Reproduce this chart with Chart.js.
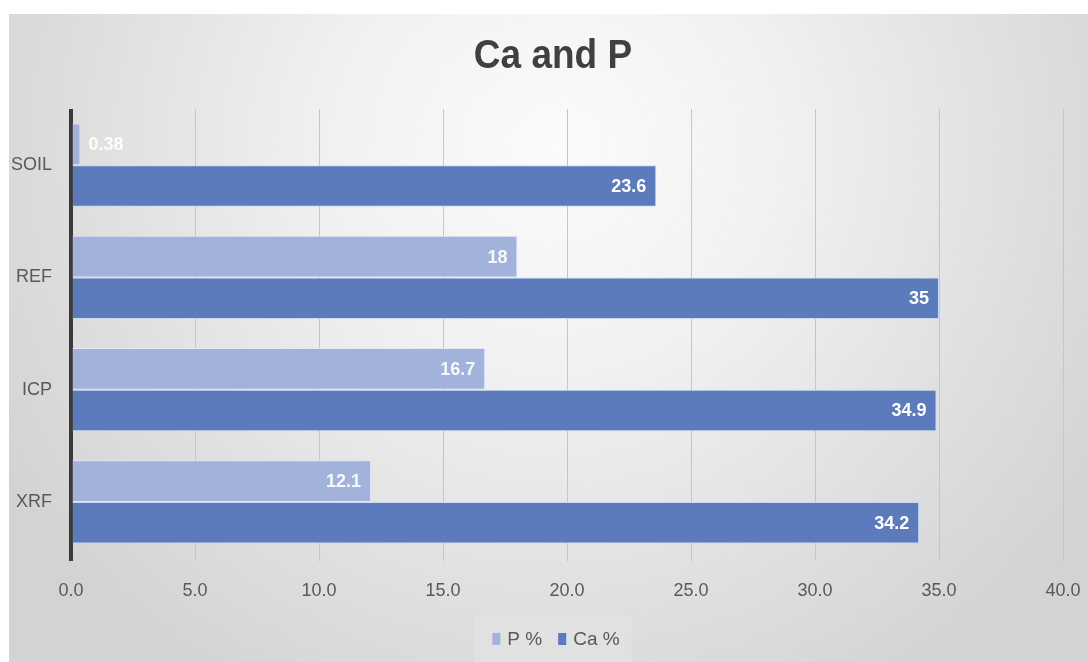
<!DOCTYPE html>
<html>
<head>
<meta charset="utf-8">
<script src="https://cdn.jsdelivr.net/npm/chart.js@4.4.1/dist/chart.umd.min.js"></script>
<style>
  html, body { margin: 0; padding: 0; background: #ffffff; }
  #wrap { width: 1088px; height: 662px; position: relative; }
</style>
</head>
<body>
<div id="wrap"><canvas id="chart" width="1088" height="662"></canvas></div>
<script>
// Sample groups and measured percentages
const categories = ['SOIL', 'REF', 'ICP', 'XRF'];
const pPercent = [0.38, 18, 16.7, 12.1];
const caPercent = [23.6, 35, 34.9, 34.2];
const seriesNames = ['P %', 'Ca %'];
const chartTitle = 'Ca and P';
const xMin = 0, xMax = 40, xStep = 5;

const FONT = "'Liberation Sans', Arial, sans-serif";
const TEXT = '#595959';
const COLORS = ['#a2b2da', '#5b7bbc'];

// Panel background: white margin strips plus a soft grey radial wash
const panelBackground = {
  id: 'panelBackground',
  beforeDraw(chart) {
    const ctx = chart.ctx;
    const w = chart.width, h = chart.height;
    ctx.save();
    ctx.fillStyle = '#ffffff';
    ctx.fillRect(0, 0, w, h);
    const g = ctx.createRadialGradient(555, 150, 0, 555, 150, 640);
    g.addColorStop(0, '#fbfbfb');
    g.addColorStop(0.35, '#f1f1f1');
    g.addColorStop(0.75, '#dedede');
    g.addColorStop(1, '#d3d3d3');
    ctx.fillStyle = g;
    ctx.fillRect(9, 14, w - 9, h - 14);
    ctx.restore();
  }
};

// Title and legend drawn as text on the panel
const titleAndLegend = {
  id: 'titleAndLegend',
  afterDraw(chart) {
    const ctx = chart.ctx;
    ctx.save();
    // title, slightly tall lettering
    ctx.fillStyle = '#404040';
    ctx.font = 'bold 37px ' + FONT;
    ctx.textAlign = 'center';
    ctx.textBaseline = 'alphabetic';
    ctx.translate(553, 68);
    ctx.scale(1, 1.12);
    ctx.fillText(chartTitle, 0, 0);
    ctx.restore();

    ctx.save();
    ctx.font = '19px ' + FONT;
    const boxW = 8, boxH = 12, gap = 7, itemGap = 16;
    const widths = seriesNames.map(s => boxW + gap + ctx.measureText(s).width);
    const total = widths.reduce((a, b) => a + b, 0) + itemGap * (seriesNames.length - 1);
    const cx = 556, cy = 639;
    // lighter plate behind the legend
    ctx.fillStyle = 'rgba(255,255,255,0.14)';
    ctx.fillRect(cx - total / 2 - 18, 617, total + 30, chart.height - 617);
    let x = cx - total / 2;
    ctx.textBaseline = 'middle';
    ctx.textAlign = 'left';
    seriesNames.forEach((s, i) => {
      ctx.fillStyle = COLORS[i];
      ctx.fillRect(x, cy - boxH / 2, boxW, boxH);
      ctx.fillStyle = TEXT;
      ctx.fillText(s, x + boxW + gap, cy + 1);
      x += widths[i] + itemGap;
    });
    ctx.restore();
  }
};

// Value axis line at zero drawn over the bar bases, plus value labels
const barLabels = {
  id: 'barLabels',
  afterDatasetsDraw(chart) {
    const ctx = chart.ctx;
    const xs = chart.scales.x;
    const area = chart.chartArea;
    const x0 = xs.getPixelForValue(0);
    ctx.save();
    ctx.strokeStyle = '#3a3a3a';
    ctx.lineWidth = 3;
    ctx.beginPath();
    ctx.moveTo(x0 - 0.5, area.top);
    ctx.lineTo(x0 - 0.5, area.bottom + 3);
    ctx.stroke();

    ctx.font = 'bold 18px ' + FONT;
    ctx.textBaseline = 'middle';
    chart.data.datasets.forEach((ds, di) => {
      const meta = chart.getDatasetMeta(di);
      meta.data.forEach((el, i) => {
        const v = ds.data[i];
        const txt = String(v);
        const { x, y, base } = el.getProps(['x', 'y', 'base'], true);
        const tw = ctx.measureText(txt).width;
        ctx.fillStyle = di === 0 ? 'rgba(255,255,255,0.92)' : '#ffffff';
        if (x - base > tw + 20) {
          ctx.textAlign = 'right';
          ctx.fillText(txt, x - 10, y + 1);
        } else {
          ctx.textAlign = 'left';
          ctx.fillText(txt, x + 8, y + 1);
        }
      });
    });
    ctx.restore();
  }
};

new Chart(document.getElementById('chart'), {
  type: 'bar',
  data: {
    labels: categories,
    datasets: [
      {
        label: seriesNames[0],
        data: pPercent,
        backgroundColor: COLORS[0],
        borderColor: 'rgba(225,232,248,0.9)',
        borderWidth: 1,
        borderSkipped: 'start',
        categoryPercentage: 0.74,
        barPercentage: 1.0
      },
      {
        label: seriesNames[1],
        data: caPercent,
        backgroundColor: COLORS[1],
        borderColor: 'rgba(200,214,240,0.9)',
        borderWidth: 1,
        borderSkipped: 'start',
        categoryPercentage: 0.74,
        barPercentage: 1.0
      }
    ]
  },
  options: {
    indexAxis: 'y',
    responsive: false,
    animation: false,
    devicePixelRatio: 1,
    layout: { padding: { left: 9, top: 109, right: 25, bottom: 44 } },
    plugins: {
      title: { display: false },
      legend: { display: false },
      tooltip: { enabled: false }
    },
    scales: {
      x: {
        type: 'linear',
        min: xMin,
        max: xMax,
        afterFit(scale) {
          scale.height = 60;
          scale.paddingLeft = 0;
          scale.paddingRight = 0;
        },
        ticks: {
          stepSize: xStep,
          color: TEXT,
          font: { family: FONT, size: 18 },
          padding: 19,
          callback: v => Number(v).toFixed(1)
        },
        grid: {
          color: ctx => ctx.index === 0 ? '#3a3a3a' : '#c6c6c6',
          lineWidth: ctx => ctx.index === 0 ? 3 : 1,
          tickLength: 3,
          drawTicks: true
        },
        border: { display: false }
      },
      y: {
        afterFit(scale) {
          scale.width = 62;
          scale.paddingTop = 0;
          scale.paddingBottom = 0;
        },
        ticks: {
          color: TEXT,
          font: { family: FONT, size: 18 },
          padding: 19
        },
        grid: { display: false, drawTicks: false },
        border: { display: false }
      }
    }
  },
  plugins: [panelBackground, barLabels, titleAndLegend]
});
</script>
</body>
</html>
